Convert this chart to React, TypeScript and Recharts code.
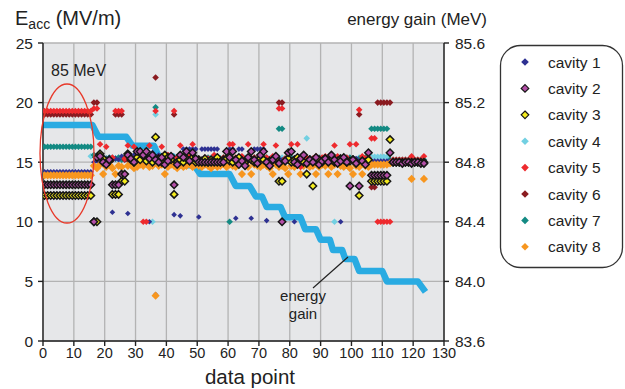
import React from 'react';
import { ComposedChart, Scatter, Line, XAxis, YAxis, CartesianGrid } from 'recharts';

const W = 625;
const H = 389;
const FONT = '"Liberation Sans", Arial, Helvetica, sans-serif';

const xTicks = [0, 10, 20, 30, 40, 50, 60, 70, 80, 90, 100, 110, 120, 130];
const eaccTicks = [0, 5, 10, 15, 20, 25];
const gainTicks = [83.6, 84.0, 84.4, 84.8, 85.2, 85.6];

// accelerating gradient per data point (MV/m), data points 1..124
const cavity1 = [
  14.2, 14.2, 14.2, 14.2, 14.2, 14.2, 14.2, 14.2, 14.2, 14.2,
  14.2, 14.2, 14.2, 14.2, 14.2, 14.2, 15.0, 15.1, 15.3, 15.2,
  15.1, 15.4, 10.8, 15.3, 15.2, 15.5, 15.3, 10.7, 15.5, 15.6,
  15.4, 15.8, 15.6, 15.5, 10.0, 15.8, 3.9, 15.6, 15.4, 15.5,
  15.6, 15.4, 10.6, 15.3, 10.5, 16.1, 16.1, 16.1, 16.1, 16.1,
  10.4, 16.1, 16.1, 16.1, 16.1, 16.1, 16.1, 15.2, 15.3, 15.2,
  16.1, 16.1, 10.3, 16.1, 16.1, 15.2, 15.3, 10.3, 16.1, 16.1,
  16.1, 16.1, 10.1, 15.3, 15.2, 15.4, 15.3, 15.2, 15.1, 15.3,
  15.2, 10.0, 15.1, 15.3, 15.2, 15.4, 15.2, 15.1, 15.3, 15.2,
  15.3, 15.1, 15.2, 15.4, 15.2, 15.1, 10.0, 15.3, 15.2, 15.1,
  15.2, 15.3, 15.1, 15.2, 15.1, 15.2, 15.1, 15.1, 15.1, 15.1,
  15.1, 15.1, 15.1, 15.0, 15.0, 15.0, 15.0, 15.0, 15.0, 15.0,
  15.0, 15.0, 15.0, 15.0,
];
const cavity2 = [
  13.1, 13.1, 13.1, 13.1, 13.1, 13.1, 13.1, 13.1, 13.1, 13.1,
  13.1, 13.1, 13.1, 13.1, 13.1, 13.1, 10.0, 15.4, 15.5, 15.0,
  14.8, 15.2, 13.1, 13.1, 13.1, 14.0, 14.0, 15.6, 15.3, 15.0,
  15.9, 15.9, 15.6, 15.9, 15.3, 15.6, 15.2, 15.0, 15.4, 14.8,
  15.1, 15.5, 13.1, 14.8, 15.6, 15.4, 15.9, 15.1, 15.8, 15.3,
  15.0, 15.0, 15.0, 15.0, 15.0, 15.0, 15.0, 15.0, 15.0, 15.9,
  15.4, 15.9, 15.2, 14.8, 15.1, 14.7, 15.4, 15.9, 15.2, 14.9,
  15.6, 15.9, 15.0, 14.7, 15.2, 15.5, 14.9, 10.0, 15.1, 15.8,
  15.9, 15.0, 14.8, 15.3, 15.6, 14.9, 15.2, 15.0, 15.4, 14.8,
  15.1, 15.3, 15.0, 15.6, 15.2, 14.9, 15.1, 15.4, 15.0, 13.0,
  15.2, 14.9, 13.0, 15.1, 14.8, 15.8, 13.9, 13.9, 13.9, 13.9,
  13.9, 13.9, 15.8, 15.0, 15.0, 15.0, 14.9, 15.0, 15.0, 14.9,
  15.0, 15.0, 14.9, 14.9,
];
const cavity3 = [
  12.2, 12.2, 12.2, 12.2, 12.2, 12.2, 12.2, 12.2, 12.2, 12.2,
  12.2, 12.2, 12.2, 12.2, 12.2, 12.2, 10.0, 10.0, 15.7, 15.3,
  14.9, 15.1, 12.3, 12.3, 12.3, 13.4, 13.4, 15.7, 15.2, 15.0,
  15.4, 15.2, 15.5, 15.1, 15.3, 15.0, 17.1, 15.3, 15.0, 15.6,
  15.4, 15.2, 12.3, 15.0, 15.2, 15.0, 15.3, 15.1, 15.4, 15.0,
  15.2, 15.1, 15.3, 15.0, 15.2, 15.1, 15.4, 15.0, 15.2, 15.3,
  15.1, 15.0, 15.2, 15.4, 15.1, 15.0, 15.3, 15.2, 15.0, 15.1,
  15.3, 15.2, 15.0, 15.1, 15.2, 15.3, 13.4, 13.4, 15.1, 15.3,
  15.0, 15.2, 15.4, 15.1, 15.0, 14.0, 15.2, 13.0, 15.1, 15.2,
  15.0, 15.3, 15.1, 15.2, 15.0, 15.1, 15.3, 15.2, 15.0, 15.1,
  15.2, 15.0, 12.2, 15.1, 15.0, 15.2, 13.4, 13.4, 13.4, 13.4,
  13.4, 13.4, 16.9, 15.0, 15.0, 15.0, 15.0, 15.0, 15.0, 15.0,
  15.0, 15.0, 15.0, 15.0,
];
const cavity4 = [
  14.0, 14.0, 14.0, 14.0, 14.0, 14.0, 14.0, 14.0, 14.0, 14.0,
  14.0, 14.0, 14.0, 14.0, 14.0, 15.5, 15.6, 15.5, 15.3, 15.2,
  15.3, 15.2, 15.4, 15.3, 15.2, 15.3, 15.4, 15.2, 15.3, 15.2,
  15.3, 15.4, 15.2, 15.3, 15.2, 10.0, 19.0, 15.3, 15.2, 15.4,
  15.3, 15.2, 15.3, 15.4, 15.2, 15.3, 15.2, 15.3, 15.4, 15.2,
  15.3, 15.2, 15.3, 15.2, 15.4, 15.3, 15.2, 15.3, 15.2, 15.3,
  15.4, 15.2, 15.3, 15.2, 15.3, 15.4, 15.2, 15.3, 15.2, 15.3,
  15.2, 15.3, 15.4, 15.2, 15.3, 15.2, 15.3, 15.4, 15.2, 15.3,
  15.2, 15.3, 15.4, 15.2, 15.3, 17.0, 15.3, 15.2, 15.4, 15.3,
  15.2, 15.3, 15.2, 15.4, 10.0, 15.3, 15.2, 15.3, 15.4, 15.2,
  15.3, 15.2, 15.4, 15.3, 15.2, 15.3, 15.45, 15.45, 15.45, 15.45,
  15.45, 15.45, 15.1, 15.1, 15.1, 15.1, 15.1, 15.1, 15.1, 15.1,
  15.1, 15.1, 15.1, 15.1,
];
const cavity5 = [
  19.3, 19.3, 19.3, 19.3, 19.3, 19.3, 19.3, 19.3, 19.3, 19.3,
  19.3, 19.3, 19.3, 19.3, 19.3, 19.3, 19.5, 19.5, 16.5, 15.3,
  16.3, 15.2, 15.4, 19.3, 19.3, 19.3, 15.3, 16.4, 15.4, 16.3,
  15.5, 15.2, 10.0, 10.0, 16.4, 15.3, 19.3, 15.4, 16.3, 15.2,
  15.6, 15.3, 19.3, 15.4, 16.4, 15.2, 15.3, 15.5, 16.5, 15.3,
  15.3, 15.2, 15.4, 15.3, 15.2, 15.6, 15.3, 15.2, 15.4, 15.3,
  16.5, 16.5, 15.4, 15.3, 15.5, 15.2, 16.5, 15.3, 15.4, 15.2,
  15.3, 16.5, 15.4, 15.2, 15.5, 16.4, 19.5, 19.5, 15.3, 15.4,
  16.5, 15.3, 16.5, 14.6, 15.3, 15.4, 15.2, 15.3, 15.5, 15.3,
  15.4, 15.5, 15.2, 15.3, 16.4, 15.5, 15.3, 15.2, 15.4, 16.5,
  15.3, 16.5, 19.4, 15.5, 15.3, 15.4, 17.0, 17.0, 10.0, 10.0,
  10.0, 10.0, 10.0, 15.2, 15.2, 15.2, 15.2, 15.2, 15.2, 15.5,
  15.2, 15.2, 15.2, 15.5,
];
const cavity6 = [
  19.0, 19.0, 19.0, 19.0, 19.0, 19.0, 19.0, 19.0, 19.0, 19.0,
  19.0, 19.0, 19.0, 19.0, 19.0, 19.0, 20.0, 20.0, 15.2, 15.2,
  15.2, 15.2, 15.2, 19.0, 19.0, 19.0, 15.2, 15.2, 15.2, 15.2,
  15.2, 15.2, 15.2, 15.2, 15.2, 15.2, 22.1, 15.1, 15.1, 15.1,
  15.1, 15.1, 19.0, 15.1, 15.1, 15.1, 15.1, 15.1, 15.1, 15.1,
  15.1, 15.1, 15.1, 15.1, 15.1, 15.1, 15.1, 15.1, 15.1, 15.1,
  15.1, 15.1, 15.1, 15.1, 15.1, 15.1, 15.1, 15.1, 15.1, 15.1,
  15.1, 15.1, 15.1, 15.1, 15.1, 15.1, 20.0, 20.0, 15.1, 15.1,
  15.1, 15.1, 15.1, 15.1, 15.1, 15.1, 15.1, 15.1, 15.1, 15.1,
  15.1, 15.1, 15.1, 15.1, 15.1, 15.1, 15.1, 15.1, 15.1, 15.1,
  15.1, 15.1, 19.0, 15.1, 15.1, 15.1, 12.9, 12.9, 20.0, 20.0,
  20.0, 20.0, 20.0, 15.1, 15.1, 15.1, 15.1, 15.1, 15.1, 15.1,
  15.1, 15.1, 15.1, 15.1,
];
const cavity7 = [
  16.3, 16.3, 16.3, 16.3, 16.3, 16.3, 16.3, 16.3, 16.3, 16.3,
  16.3, 16.3, 16.3, 16.3, 16.3, 16.3, 15.6, 15.5, 15.4, 15.3,
  15.3, 15.4, 15.2, 15.3, 15.4, 15.2, 15.3, 15.2, 15.4, 15.3,
  15.2, 15.3, 15.4, 15.2, 15.3, 15.2, 19.6, 15.3, 15.2, 15.4,
  15.3, 15.2, 15.4, 15.3, 15.2, 15.3, 15.4, 15.2, 15.3, 15.2,
  15.3, 15.2, 15.3, 15.4, 15.2, 15.3, 15.2, 15.3, 15.4, 15.2,
  10.0, 15.3, 15.2, 15.4, 15.3, 15.2, 15.3, 15.2, 15.4, 15.3,
  15.2, 15.3, 15.4, 15.2, 15.3, 15.2, 17.8, 17.8, 15.3, 15.2,
  15.4, 15.3, 15.2, 15.3, 15.2, 15.4, 15.3, 15.2, 15.3, 15.4,
  15.2, 15.3, 15.2, 15.3, 15.4, 15.2, 15.3, 15.2, 15.3, 15.4,
  15.3, 15.2, 15.3, 15.2, 15.4, 15.3, 17.8, 17.8, 17.8, 17.8,
  17.8, 17.8, 15.2, 15.2, 15.2, 15.2, 15.2, 15.2, 15.2, 15.2,
  15.2, 15.2, 15.2, 15.2,
];
const cavity8 = [
  13.9, 13.9, 13.9, 13.9, 13.9, 13.9, 13.9, 13.9, 13.9, 13.9,
  13.9, 13.9, 13.9, 13.9, 13.9, 13.9, 14.7, 14.5, 14.8, 14.0,
  14.6, 14.8, 14.5, 14.0, 14.7, 14.6, 14.0, 14.7, 14.8, 14.5,
  14.6, 14.8, 14.7, 14.9, 14.6, 14.7, 3.8, 14.7, 14.8, 14.0,
  14.6, 14.8, 14.7, 14.5, 14.8, 14.6, 14.7, 14.9, 14.6, 14.8,
  14.7, 14.6, 14.8, 14.7, 14.5, 14.8, 14.6, 14.7, 14.9, 14.6,
  14.8, 14.7, 14.6, 14.8, 14.0, 14.7, 14.6, 14.0, 14.8, 14.7,
  14.6, 14.8, 14.7, 14.5, 14.0, 14.8, 14.6, 14.7, 14.5, 14.0,
  14.7, 14.6, 14.8, 14.0, 14.7, 14.8, 14.6, 14.7, 14.0, 14.6,
  14.8, 14.7, 14.0, 14.6, 14.8, 14.0, 14.7, 14.6, 14.8, 14.5,
  14.0, 14.7, 14.6, 14.0, 14.7, 14.6, 14.8, 14.8, 14.8, 14.8,
  14.8, 14.8, 14.9, 15.0, 15.0, 15.0, 15.0, 15.0, 15.0, 13.6,
  15.0, 15.0, 15.0, 13.6,
];

// energy gain staircase (corner points), right axis in MeV
const energyX = [0, 16, 18, 27, 29, 36, 37.5, 42, 44, 49, 51, 60.5, 62.5, 67, 69, 71, 72.5, 77, 78.5, 83.5,
  85, 88.5, 90, 93, 94, 97, 98, 101, 102.5, 110, 111.5, 121.5, 124];
const energyMeV = [85.05, 85.05, 84.97, 84.97, 84.91, 84.91, 84.84, 84.84, 84.78, 84.78, 84.72, 84.72,
  84.64, 84.64, 84.57, 84.57, 84.5, 84.5, 84.43, 84.43, 84.35, 84.35, 84.28, 84.28, 84.21, 84.21,
  84.15, 84.15, 84.07, 84.07, 84.0, 84.0, 83.93];

const cavities = [
  { name: 'cavity 1', values: cavity1, fill: '#2e3192', stroke: 'none', r: 2.8 },
  { name: 'cavity 2', values: cavity2, fill: '#b44fa8', stroke: '#161616', r: 3.7 },
  { name: 'cavity 3', values: cavity3, fill: '#f4ec1e', stroke: '#161616', r: 3.7 },
  { name: 'cavity 4', values: cavity4, fill: '#72d0e2', stroke: 'none', r: 3.3 },
  { name: 'cavity 5', values: cavity5, fill: '#ee2a2e', stroke: 'none', r: 3.3 },
  { name: 'cavity 6', values: cavity6, fill: '#8a1b20', stroke: 'none', r: 3.3 },
  { name: 'cavity 7', values: cavity7, fill: '#138a83', stroke: 'none', r: 3.3 },
  { name: 'cavity 8', values: cavity8, fill: '#f7961f', stroke: 'none', r: 4.1 },
];
// painting order, bottom to top
const drawOrder = [3, 6, 5, 0, 7, 4, 2, 1];

const energyData = energyX.map((x, i) => ({ x, e: energyMeV[i] }));

const diamond = (r: number, fill: string, stroke: string) => (p: any) => {
  if (p.cx == null || p.cy == null) return <g />;
  const { cx, cy } = p;
  return (
    <path
      d={`M${cx},${cy - r}L${cx + r},${cy}L${cx},${cy + r}L${cx - r},${cy}Z`}
      fill={fill}
      stroke={stroke}
      strokeWidth={stroke === 'none' ? 0 : 1.5}
    />
  );
};

const tickStyle = { fill: '#222', fontSize: 15.5, fontFamily: FONT };

export default function App() {
  return (
    <div style={{ position: 'absolute', left: 0, top: 0, width: W, height: H, background: '#fff', fontFamily: FONT }}>
      <ComposedChart width={W} height={H} margin={{ top: 43, right: 0, bottom: 0, left: 0 }}>
        <CartesianGrid yAxisId="left" fill="#e6e7e9" stroke="#b3b3b3" strokeWidth={1.3} />
        <XAxis
          type="number"
          dataKey="x"
          domain={[0, 130]}
          ticks={xTicks}
          interval={0}
          allowDataOverflow
          height={48}
          tickSize={5}
          tickMargin={2}
          stroke="#222"
          strokeWidth={1.4}
          tick={{ ...tickStyle, fontSize: 14.5 }}
        />
        <YAxis
          yAxisId="left"
          dataKey="y"
          type="number"
          domain={[0, 25]}
          ticks={eaccTicks}
          allowDataOverflow
          width={43}
          tickSize={5}
          tickMargin={5}
          stroke="#222"
          strokeWidth={1.4}
          tick={tickStyle}
        />
        <YAxis
          yAxisId="right"
          orientation="right"
          dataKey="e"
          type="number"
          domain={[83.6, 85.6]}
          ticks={gainTicks}
          allowDataOverflow
          width={181}
          tickSize={5}
          tickMargin={6}
          stroke="#222"
          strokeWidth={1.4}
          tick={tickStyle}
          tickFormatter={(v: number) => v.toFixed(1)}
        />
        <Line
          yAxisId="right"
          data={energyData}
          dataKey="e"
          type="linear"
          stroke="#29abe2"
          strokeWidth={6.5}
          dot={false}
          activeDot={false}
          strokeLinejoin="round"
          isAnimationActive={false}
        />
        {drawOrder.map((k) => {
          const c = cavities[k];
          return (
            <Scatter
              key={c.name}
              name={c.name}
              yAxisId="left"
              data={c.values.map((y, i) => ({ x: i + 0.5, y }))}
              dataKey="y"
              fill={c.fill}
              shape={diamond(c.r, c.fill, c.stroke)}
              isAnimationActive={false}
            />
          );
        })}
      </ComposedChart>

      <svg width={W} height={H} style={{ position: 'absolute', left: 0, top: 0, pointerEvents: 'none' }}>
        <text x={15} y={25} fontSize={20} fill="#222" fontFamily={FONT}>
          E<tspan fontSize={14} dy={4}>acc</tspan>
          <tspan dy={-4} fontSize={20}> (MV/m)</tspan>
        </text>
        <text x={487} y={25} fontSize={17} fill="#222" fontFamily={FONT} textAnchor="end">
          energy gain (MeV)
        </text>
        <text x={250} y={384} fontSize={20.5} fill="#222" fontFamily={FONT} textAnchor="middle">
          data point
        </text>

        <text x={51} y={76} fontSize={16} fill="#222" fontFamily={FONT}>85 MeV</text>
        <ellipse cx={67} cy={153.5} rx={27} ry={69.5} fill="none" stroke="#e8392a" strokeWidth={1.3} />

        <line x1={313} y1={288} x2={348} y2={257} stroke="#222" strokeWidth={1.2} />
        <text x={303} y={301} fontSize={15} fill="#222" fontFamily={FONT} textAnchor="middle">energy</text>
        <text x={303} y={319} fontSize={15} fill="#222" fontFamily={FONT} textAnchor="middle">gain</text>

        <rect x={500.5} y={45.5} width={122} height={222} rx={20} ry={20} fill="#fff" stroke="#333" strokeWidth={1.3} />
        {cavities.map((c, i) => {
          const cy = 62 + i * 26.4;
          const r = 3.8;
          return (
            <g key={c.name}>
              <path
                d={`M525,${cy - r}L${525 + r},${cy}L525,${cy + r}L${525 - r},${cy}Z`}
                fill={c.fill}
                stroke={c.stroke}
                strokeWidth={c.stroke === 'none' ? 0 : 1.2}
              />
              <text x={548} y={cy + 5.5} fontSize={15.5} fill="#222" fontFamily={FONT}>{c.name}</text>
            </g>
          );
        })}
      </svg>
    </div>
  );
}
